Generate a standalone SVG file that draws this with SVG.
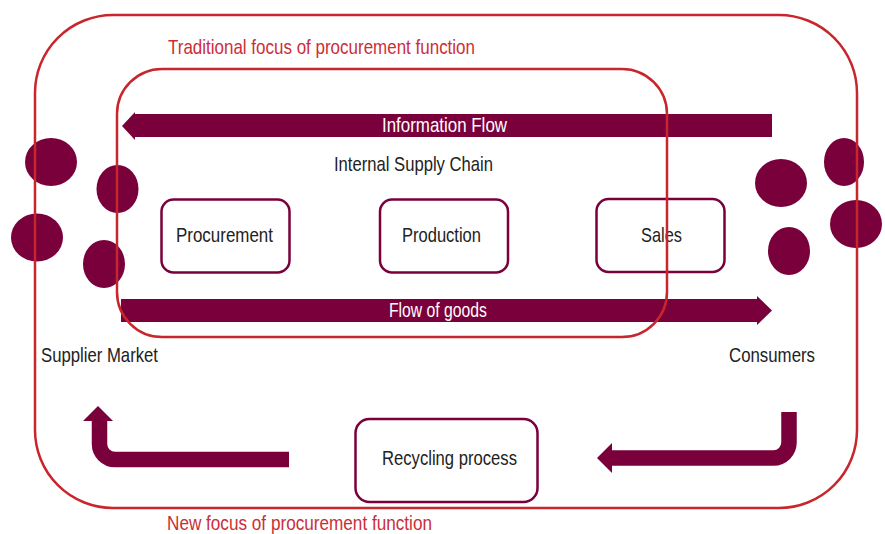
<svg xmlns="http://www.w3.org/2000/svg" width="885" height="534" viewBox="0 0 885 534">
  <style>
    .focus { fill: none; stroke: #c8252c; stroke-width: 2.5; }
    .blob { fill: #7a003c; }
    .box { fill: #ffffff; stroke: #7a003c; stroke-width: 2.5; }
    .flow { fill: #7a003c; }
    .pipe { fill: none; stroke: #7a003c; stroke-width: 15.5; }
    text { font-family: "Liberation Sans", Arial, sans-serif; font-size: 21px; }
    .dark { fill: #222222; }
    .white { fill: #ffffff; }
    .red { fill: #cc2e37; }
  </style>

  <!-- supplier market -->
  <g id="supplier-market">
    <ellipse class="blob" cx="51" cy="162" rx="26" ry="24"/>
    <ellipse class="blob" cx="117.5" cy="189" rx="21" ry="24"/>
    <ellipse class="blob" cx="37" cy="237.5" rx="26" ry="24"/>
    <ellipse class="blob" cx="104" cy="264" rx="21" ry="24"/>
    <text class="dark" x="41" y="362" textLength="117" lengthAdjust="spacingAndGlyphs">Supplier Market</text>
  </g>

  <!-- consumers -->
  <g id="consumers">
    <ellipse class="blob" cx="781" cy="183" rx="26" ry="24"/>
    <ellipse class="blob" cx="844" cy="162" rx="20" ry="24"/>
    <ellipse class="blob" cx="856" cy="224" rx="26" ry="24"/>
    <ellipse class="blob" cx="789" cy="251" rx="21" ry="24"/>
    <text class="dark" x="729" y="362" textLength="86" lengthAdjust="spacingAndGlyphs">Consumers</text>
  </g>

  <!-- connectors -->
  <g id="connectors">
    <g id="information-flow">
      <polygon class="flow" points="772,114 135,114 135,112 122,126 135,140 135,137 772,137"/>
      <text class="white" x="382" y="132" textLength="125" lengthAdjust="spacingAndGlyphs">Information Flow</text>
    </g>
    <g id="flow-of-goods">
      <polygon class="flow" points="121,299 757,299 757,296 772,310.5 757,325 757,322 121,322"/>
      <text class="white" x="389" y="317" textLength="98" lengthAdjust="spacingAndGlyphs">Flow of goods</text>
    </g>
    <g id="return-to-suppliers">
      <path class="pipe" d="M289,459.5 H115 A15.5,15.5 0 0 1 99.5,444 V420"/>
      <polygon class="flow" points="83,421 98,406 113,421"/>
    </g>
    <g id="return-from-consumers">
      <path class="pipe" d="M789,412 V442.5 A15.5,15.5 0 0 1 773.5,458 H611"/>
      <polygon class="flow" points="612,443 597,458 612,473"/>
    </g>
  </g>

  <!-- internal supply chain -->
  <g id="internal-supply-chain">
    <text class="dark" x="334" y="171" textLength="159" lengthAdjust="spacingAndGlyphs">Internal Supply Chain</text>
  </g>
  <g id="procurement">
    <rect class="box" x="161.5" y="199.5" width="128" height="73" rx="12"/>
    <text class="dark" x="176" y="242" textLength="97" lengthAdjust="spacingAndGlyphs">Procurement</text>
  </g>
  <g id="production">
    <rect class="box" x="380" y="199.5" width="128" height="73" rx="12"/>
    <text class="dark" x="402" y="242" textLength="79" lengthAdjust="spacingAndGlyphs">Production</text>
  </g>
  <g id="sales">
    <rect class="box" x="596.5" y="199" width="128" height="73" rx="12"/>
    <text class="dark" x="641" y="242" textLength="41" lengthAdjust="spacingAndGlyphs">Sales</text>
  </g>
  <g id="recycling-process">
    <rect class="box" x="355.5" y="419" width="182" height="83" rx="14"/>
    <text class="dark" x="382" y="465" textLength="135" lengthAdjust="spacingAndGlyphs">Recycling process</text>
  </g>

  <!-- focus boundaries, drawn on top of everything they cross -->
  <g id="new-focus">
    <rect class="focus" x="35" y="15" width="822" height="493" rx="78" ry="78"/>
    <text class="red" x="167" y="530" textLength="265" lengthAdjust="spacingAndGlyphs">New focus of procurement function</text>
  </g>
  <g id="traditional-focus">
    <rect class="focus" x="117" y="69" width="550" height="268" rx="45" ry="45"/>
    <text class="red" x="168" y="54" textLength="307" lengthAdjust="spacingAndGlyphs">Traditional focus of procurement function</text>
  </g>
</svg>
